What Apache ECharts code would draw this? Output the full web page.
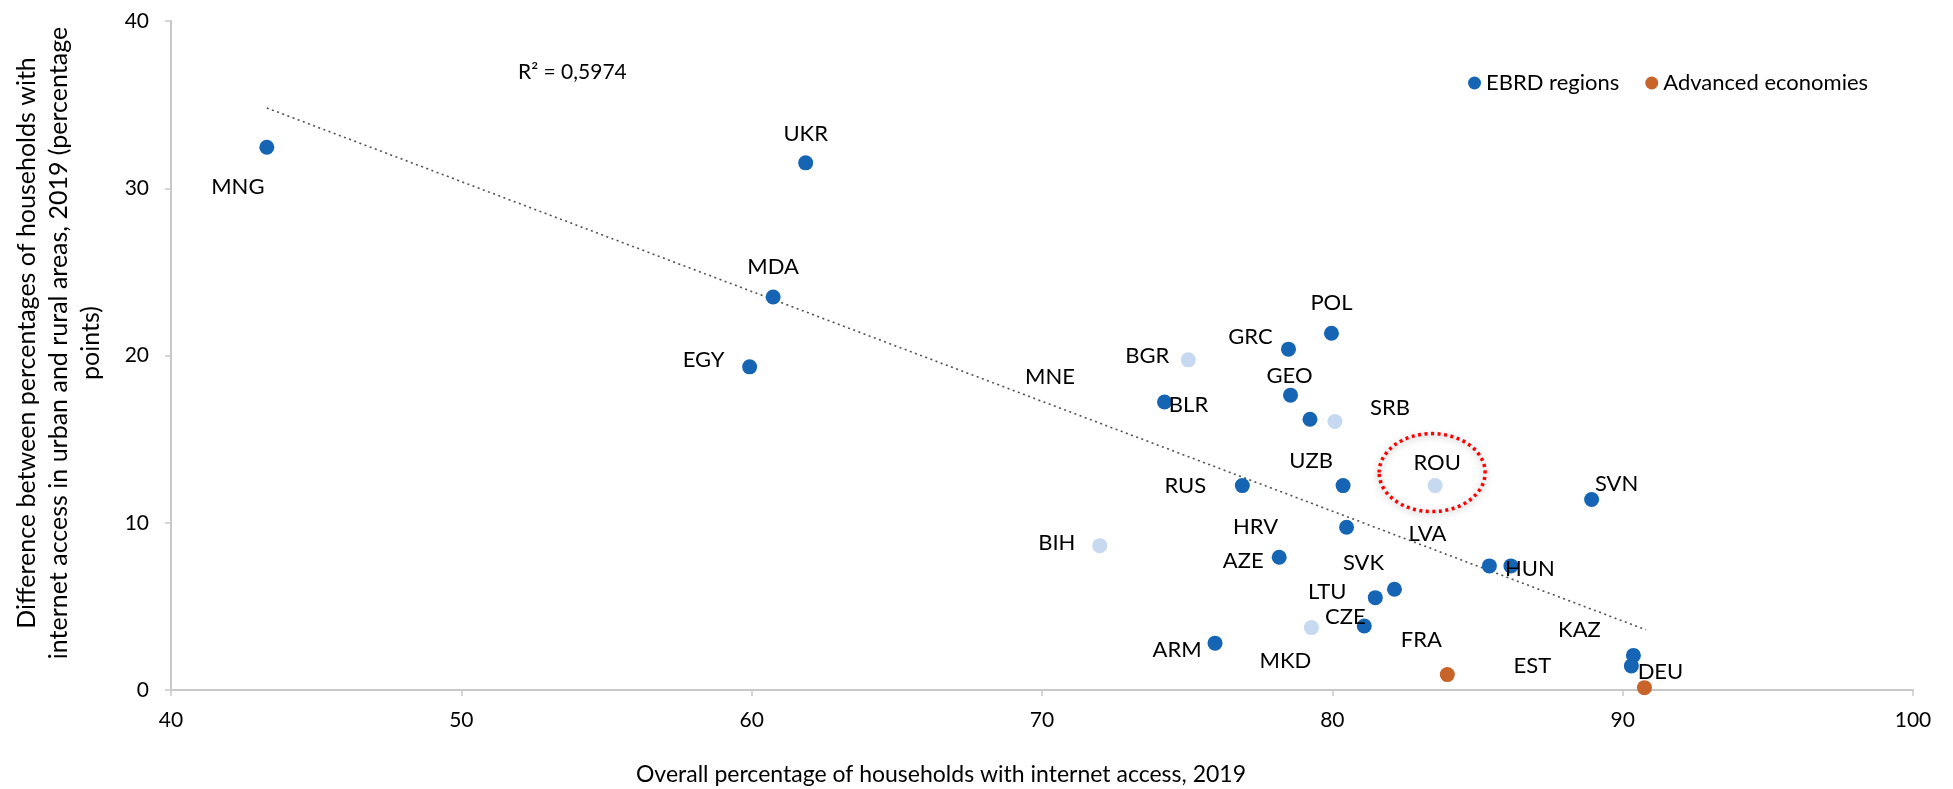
<!DOCTYPE html>
<html>
<head>
<meta charset="utf-8">
<script src="https://cdn.jsdelivr.net/npm/echarts@6/dist/echarts.min.js"></script>
<style>
html,body{margin:0;padding:0;background:#fff;}
#chart{width:1953px;height:789px;}
</style>
</head>
<body>
<div id="chart"></div>
<script>
// ---- Data ----
const ebrdNames = ['MNG','UKR','MDA','EGY','GRC','POL','GEO','BLR','MNE','RUS','UZB','SVN','HRV','AZE','LVA','HUN','SVK','LTU','CZE','ARM','KAZ','EST'];
const ebrdX     = [43.3, 61.86, 60.74, 59.93, 78.49, 79.97, 78.56, 74.22, 79.23, 76.9, 80.37, 88.93, 80.49, 78.17, 85.41, 86.15, 82.14, 81.48, 81.1, 75.96, 90.37, 90.3];
const ebrdY     = [32.45, 31.52, 23.5, 19.32, 20.38, 21.33, 17.63, 17.22, 16.19, 12.22, 12.22, 11.39, 9.73, 7.94, 7.42, 7.42, 6.02, 5.52, 3.83, 2.8, 2.07, 1.44];

const lightNames = ['BGR','SRB','ROU','BIH','MKD'];
const lightX     = [75.04, 80.09, 83.54, 71.99, 79.28];
const lightY     = [19.74, 16.05, 12.22, 8.63, 3.73];

const advNames = ['FRA','DEU'];
const advX     = [83.96, 90.75];
const advY     = [0.92, 0.14];

const trendX = [43.3, 90.8];
const trendY = [34.8, 3.6];

const xTicks = [40, 50, 60, 70, 80, 90, 100];
const yTicks = [0, 10, 20, 30, 40];

const highlighted = 'ROU';

// ---- Styles (label placement in pixels, relative to the marker) ----
const labelOffsets = {
  MNG:[-29,40], UKR:[0,-29], MDA:[0,-30], EGY:[-46,-7], BGR:[-41,-4], GRC:[-38,-12],
  GEO:[-1,-19], BLR:[24,3], MNE:[-260,-42], POL:[0,-30], SRB:[55,-14], RUS:[-57,0],
  UZB:[-32,-25], ROU:[2,-23], SVN:[25,-16], BIH:[-43,-3], HRV:[-91,0], AZE:[-36,4],
  LVA:[-62,-32], HUN:[19,3], SVK:[-31,-26], LTU:[-48,-6], CZE:[-19,-9], MKD:[-26,33],
  ARM:[-38,7], FRA:[-26,-35], EST:[-99,0], KAZ:[-54,-25], DEU:[16,-16]
};

const FONT = 'Lato, "Open Sans", sans-serif';
const BLUE = '#1565b4', LIGHT = '#c6d9f0', ORANGE = '#c8642a';

function build(names, xs, ys) {
  return names.map((n, i) => ({
    name: n,
    value: [xs[i], ys[i]],
    label: { offset: labelOffsets[n] || [0, 0] }
  }));
}

const labelCfg = {
  show: true,
  position: 'inside',
  align: 'center',
  verticalAlign: 'middle',
  formatter: p => p.name,
  color: '#000',
  fontFamily: FONT,
  fontSize: 22
};

const chart = echarts.init(document.getElementById('chart'), null, {renderer: 'canvas'});

const option = {
  animation: false,
  backgroundColor: '#fff',
  grid: { left: 171, right: 40, top: 21, bottom: 99, containLabel: false },
  legend: {
    data: ['EBRD regions', 'Advanced economies'],
    left: 1463, top: 67,
    icon: 'circle', itemWidth: 13, itemHeight: 13, itemGap: 26,
    textStyle: { fontFamily: FONT, fontSize: 22, color: '#000' }
  },
  xAxis: {
    type: 'value', min: xTicks[0], max: xTicks[xTicks.length-1], interval: 10,
    axisLine: { show: true, lineStyle: { color: '#c8c8c8', width: 2 } },
    axisTick: { show: true, length: 6, lineStyle: { color: '#c8c8c8', width: 1.5 } },
    splitLine: { show: false },
    axisLabel: { margin: 20, color: '#000', fontFamily: FONT, fontSize: 21 }
  },
  yAxis: {
    type: 'value', min: yTicks[0], max: yTicks[yTicks.length-1], interval: 10,
    axisLine: { show: true, lineStyle: { color: '#c8c8c8', width: 2 } },
    axisTick: { show: true, length: 6, lineStyle: { color: '#c8c8c8', width: 1.5 } },
    splitLine: { show: false },
    axisLabel: { margin: 22, color: '#000', fontFamily: FONT, fontSize: 21 }
  },
  series: [
    {
      name: 'Trend', type: 'line', symbol: 'none', silent: true,
      data: trendX.map((x, i) => [x, trendY[i]]),
      lineStyle: { color: '#505050', width: 1.6, type: [2, 3.5] },
      z: 1
    },
    {
      name: 'EBRD regions', type: 'scatter', symbolSize: 15,
      itemStyle: { color: BLUE, opacity: 1 },
      label: labelCfg,
      data: build(ebrdNames, ebrdX, ebrdY), z: 3
    },
    {
      name: 'EBRD regions (other)', type: 'scatter', symbolSize: 15,
      itemStyle: { color: LIGHT, opacity: 1 },
      label: labelCfg,
      data: build(lightNames, lightX, lightY), z: 3
    },
    {
      name: 'Advanced economies', type: 'scatter', symbolSize: 15,
      itemStyle: { color: ORANGE, opacity: 1 },
      label: labelCfg,
      data: build(advNames, advX, advY), z: 3
    }
  ]
};
chart.setOption(option);

// Annotations: R², axis titles, highlight ellipse
const hi = lightNames.indexOf(highlighted);
const hp = chart.convertToPixel({seriesIndex: 2}, [lightX[hi], lightY[hi]]);

chart.setOption({
  graphic: [
    { type: 'text', left: 518, top: 62,
      style: { text: 'R² = 0,5974', fontFamily: FONT, fontSize: 21, fill: '#000' } },
    { type: 'text', x: 941, y: 775,
      style: { text: 'Overall percentage of households with internet access, 2019',
               fontFamily: FONT, fontSize: 23, fill: '#000', align: 'center', verticalAlign: 'middle' } },
    { type: 'text', x: 59, y: 343, rotation: Math.PI / 2,
      style: { text: 'Difference between percentages of households with\ninternet access in urban and rural areas, 2019 (percentage\npoints)',
               fontFamily: FONT, fontSize: 25, lineHeight: 32, fill: '#000', align: 'center', verticalAlign: 'middle' } },
    { type: 'ellipse', shape: { cx: hp[0] - 3, cy: hp[1] - 13, rx: 53, ry: 39 },
      style: { fill: 'none', stroke: '#ff0000', lineWidth: 3.5, lineDash: [3, 3.5],
               shadowBlur: 6, shadowColor: 'rgba(0,0,0,0.35)', shadowOffsetY: 2 }, z: 10 }
  ]
});
</script>
</body>
</html>
